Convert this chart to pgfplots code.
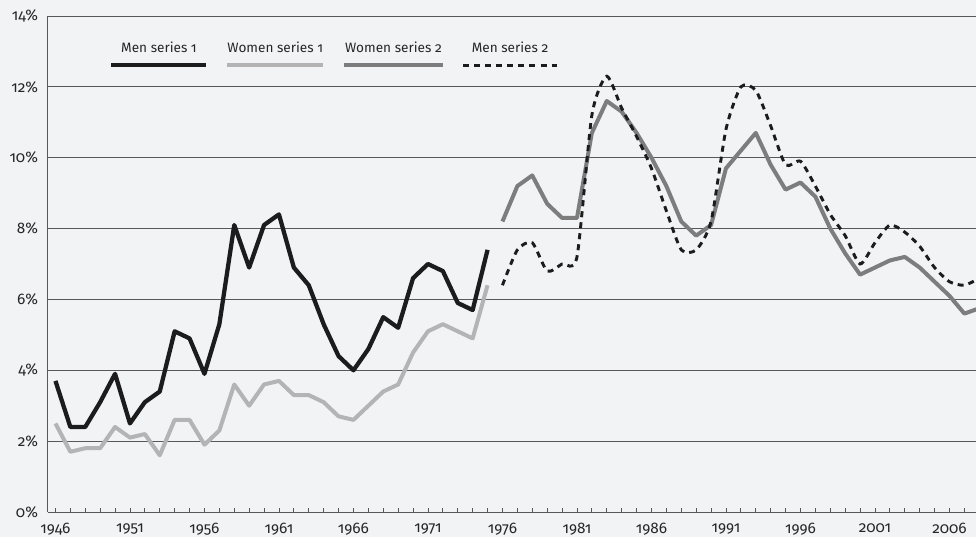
\documentclass[border=0pt]{standalone}
\usepackage{pgfplots}
\pgfplotsset{compat=1.18}
\usepackage{pgfplotstable}
\usepackage{fontspec}
\setmainfont{Fira Sans}[Numbers=OldStyle]

\definecolor{bgc}{RGB}{242,243,245}
\definecolor{gridc}{RGB}{88,88,88}
\definecolor{menone}{RGB}{28,28,28}
\definecolor{womone}{RGB}{180,180,180}
\definecolor{womtwo}{RGB}{125,125,125}

% legend sample: line of given length with its name set above it
\pgfplotsset{
    toplegend/.style n args={2}{legend image code/.code={
        \draw[##1] (0pt,0pt) -- (#2,0pt);
        \node[overlay, anchor=base, inner sep=0pt, font=\fontsize{10.2}{12}\selectfont, text=black!85] at (#2/2,10pt) {#1};
    }},
}

% men, first series
\pgfplotstableread{
year val
1946 3.7
1947 2.4
1948 2.4
1949 3.1
1950 3.9
1951 2.5
1952 3.1
1953 3.4
1954 5.1
1955 4.9
1956 3.9
1957 5.3
1958 8.1
1959 6.9
1960 8.1
1961 8.4
1962 6.9
1963 6.4
1964 5.3
1965 4.4
1966 4.0
1967 4.6
1968 5.5
1969 5.2
1970 6.6
1971 7.0
1972 6.8
1973 5.9
1974 5.7
1975 7.4
}\menone

% women, first series
\pgfplotstableread{
year val
1946 2.5
1947 1.7
1948 1.8
1949 1.8
1950 2.4
1951 2.1
1952 2.2
1953 1.6
1954 2.6
1955 2.6
1956 1.9
1957 2.3
1958 3.6
1959 3.0
1960 3.6
1961 3.7
1962 3.3
1963 3.3
1964 3.1
1965 2.7
1966 2.6
1967 3.0
1968 3.4
1969 3.6
1970 4.5
1971 5.1
1972 5.3
1973 5.1
1974 4.9
1975 6.4
}\womone

% women, second series
\pgfplotstableread{
year val
1976 8.2
1977 9.2
1978 9.5
1979 8.7
1980 8.3
1981 8.3
1982 10.7
1983 11.6
1984 11.3
1985 10.7
1986 10.0
1987 9.2
1988 8.2
1989 7.8
1990 8.1
1991 9.7
1992 10.2
1993 10.7
1994 9.8
1995 9.1
1996 9.3
1997 8.9
1998 8.0
1999 7.3
2000 6.7
2001 6.9
2002 7.1
2003 7.2
2004 6.9
2005 6.5
2006 6.1
2007 5.6
2008 5.75
}\womtwo

% men, second series
\pgfplotstableread{
year val
1976 6.4
1977 7.4
1978 7.6
1979 6.8
1980 7.0
1981 7.2
1982 11.2
1983 12.3
1984 11.4
1985 10.6
1986 9.7
1987 8.5
1988 7.4
1989 7.4
1990 8.2
1991 10.8
1992 12.0
1993 11.9
1994 10.9
1995 9.8
1996 9.9
1997 9.2
1998 8.4
1999 7.8
2000 7.0
2001 7.6
2002 8.1
2003 7.9
2004 7.5
2005 6.9
2006 6.5
2007 6.4
2008 6.6
}\mentwo

\begin{document}
\begin{tikzpicture}
\fill[bgc] (-36pt,-18.75pt) rectangle (696pt,384pt);
\useasboundingbox (-36pt,-18.75pt) rectangle (696pt,384pt);
\begin{axis}[
    at={(0,0)}, anchor=south west,
    scale only axis,
    width=696pt, height=372pt,
    xmin=1945.5, xmax=2007.78,
    ymin=0, ymax=14,
    axis x line*=bottom, axis y line*=left,
    axis line style={gridc, line width=0.75pt, -},
    xtick={1946,1951,...,2006},
    xticklabels={1946,1951,1956,1961,1966,1971,1976,1981,1986,1991,1996,2001,2006},
    minor xtick={1946,...,2008},
    tick align=inside,
    major tick length=3pt, minor tick length=3pt,
    every tick/.style={gridc, line width=0.6pt},
    ytick={0,2,...,14},
    yticklabels={0\%,2\%,4\%,6\%,8\%,10\%,12\%,14\%},
    ytick style={draw=none},
    ymajorgrids,
    grid style={gridc, line width=0.75pt},
    ticklabel style={font=\fontsize{11.5}{13}\selectfont, text=black!85},
    xticklabel style={yshift=-5pt},
    yticklabel style={xshift=-4pt},
    legend columns=4,
    legend style={at={(axis description cs:0,1)}, anchor=west,
        xshift=46pt, yshift=-37pt, draw=none, fill=none,
        inner sep=0pt, outer sep=0pt, nodes={inner sep=0pt},
        /tikz/every even column/.append style={column sep=11.5pt}},
]
\addplot[menone, line width=3.2pt, line join=round, toplegend={Men series 1}{71.25pt}]
    table[x=year, y=val] {\menone};
\addlegendentry{\mbox{}}
\addplot[womone, line width=3pt, line join=round, toplegend={Women series 1}{72pt}]
    table[x=year, y=val] {\womone};
\addlegendentry{\mbox{}}
\addplot[womtwo, line width=3pt, line join=round, toplegend={Women series 2}{74.25pt}]
    table[x=year, y=val] {\womtwo};
\addlegendentry{\mbox{}}
\addplot[menone, line width=2.2pt, dash pattern=on 4.5pt off 3.8pt, smooth, tension=0.4,
    toplegend={Men series 2}{70.5pt}]
    table[x=year, y=val] {\mentwo};
\addlegendentry{\mbox{}}
\end{axis}
\end{tikzpicture}
\end{document}
